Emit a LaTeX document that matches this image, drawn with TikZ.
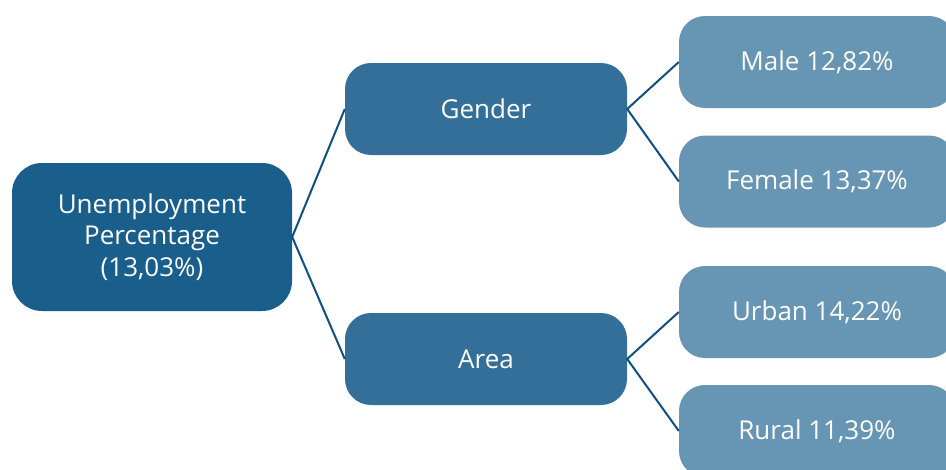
\documentclass[tikz,border=0pt]{standalone}
\usepackage{fontspec}
\setmainfont{Open Sans}
\usepackage{xcolor}
\usetikzlibrary{positioning}
\definecolor{rootblue}{HTML}{1A5E8B}
\definecolor{midblue}{HTML}{336F99}
\definecolor{leafblue}{HTML}{6795B4}
\definecolor{linkblue}{HTML}{0E4F84}

\begin{document}
\begin{tikzpicture}[x=1pt,y=-1pt,
        box/.style={rectangle, rounded corners=26pt, text=white, font=\fontsize{26}{31.5}\selectfont, align=center, inner sep=0pt},
        rootbox/.style={box, fill=rootblue, minimum width=280pt, minimum height=148pt, rounded corners=30pt},
        midbox/.style={box, fill=midblue, minimum width=282pt, minimum height=92pt},
        leafbox/.style={box, fill=leafblue, minimum width=276pt, minimum height=92pt},
        link/.style={draw=linkblue, line width=2pt}]
        \newcommand{\figunempmidx}{486}
        \newcommand{\figunempleafx}{817}
        \useasboundingbox (0,0) rectangle (946,469);
        \node[rootbox] (unemp) at (152,237) {Unemployment\\Percentage\\(13,03\%)};
        \node[midbox] (gender) at (\figunempmidx,109) {Gender};
        \node[midbox] (area) at (\figunempmidx,359) {Area};
        \node[leafbox] (male) at (\figunempleafx,62) {Male 12,82\%};
        \node[leafbox] (female) at (\figunempleafx,181.5) {Female 13,37\%};
        \node[leafbox] (urban) at (\figunempleafx,312) {Urban 14,22\%};
        \node[leafbox] (rural) at (\figunempleafx,431) {Rural 11,39\%};
        \draw[link] (gender.west) -- (unemp.east) -- (area.west);
        \draw[link] (male.west) -- (gender.east) -- (female.west);
        \draw[link] (urban.west) -- (area.east) -- (rural.west);
    \end{tikzpicture}
\end{document}
